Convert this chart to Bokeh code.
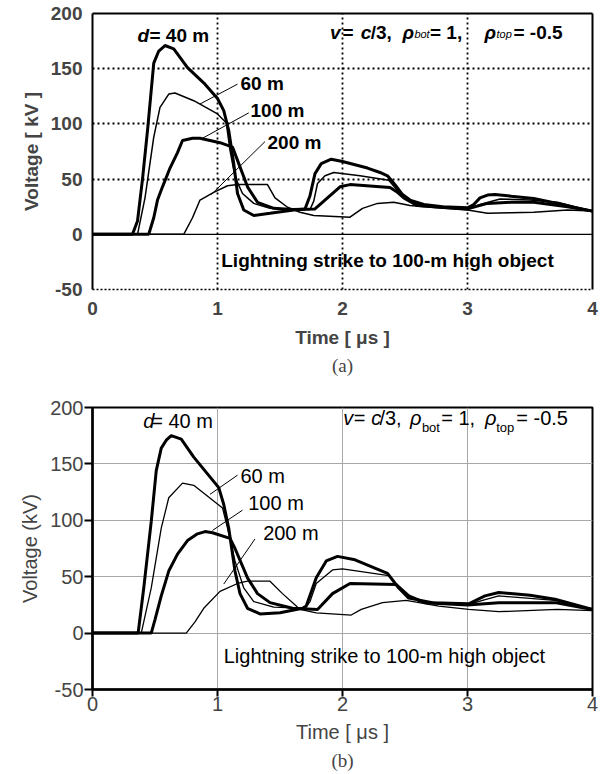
from bokeh.plotting import figure
from bokeh.models import FixedTicker, Label, LinearAxis, Span, Range1d
from bokeh.layouts import column
from bokeh.embed import file_html
from bokeh.resources import INLINE

FONT = "Liberation Sans"
SERIF = "Liberation Serif"

# ---------------- data: panel (a) ----------------
x_ticks = [0, 1, 2, 3, 4]
y_ticks = [-50, 0, 50, 100, 150, 200]

t40_a = [0, 0.32, 0.36, 0.40, 0.44, 0.49, 0.53, 0.58, 0.65, 0.76, 0.90, 1.00, 1.05, 1.09, 1.13, 1.16, 1.21, 1.29, 1.42, 1.61,
         1.70, 1.74, 1.78, 1.83, 1.91, 2.00, 2.10, 2.20, 2.30, 2.36, 2.42, 2.48, 2.54, 2.65, 2.80, 3.00, 3.05, 3.10, 3.16, 3.22,
         3.35, 3.53, 3.72, 3.85, 4.00]
v40_a = [0, 0, 12, 50, 94, 155, 166, 171, 168, 151, 136, 123, 112, 94, 64, 37, 22, 17, 19, 22,
         23, 35, 55, 64, 68, 66, 63, 60, 56, 53, 45, 36, 31, 27, 25, 24, 27, 33, 35.5, 36,
         34.5, 32.5, 28, 24.5, 21]

t60_a = [0, 0.36, 0.42, 0.49, 0.54, 0.61, 0.66, 0.81, 1.00, 1.07, 1.10, 1.14, 1.20, 1.29, 1.42, 1.60, 1.74, 1.77, 1.80, 1.86,
         1.93, 2.14, 2.37, 2.46, 2.57, 2.73, 3.00, 3.10, 3.26, 3.50, 3.72, 4.00]
v60_a = [0, 0, 33, 88, 115, 127, 128, 121, 109, 101, 76, 52, 37, 28, 23.5, 22, 22.5, 30, 46, 53,
         56, 53, 49, 37, 28, 25, 23, 27, 32, 31, 29, 21]

t100_a = [0, 0.45, 0.49, 0.52, 0.56, 0.62, 0.68, 0.72, 0.80, 0.86, 1.02, 1.12, 1.17, 1.24, 1.32, 1.45, 1.60, 1.78, 1.83, 1.88,
          1.98, 2.06, 2.38, 2.44, 2.49, 2.60, 2.80, 3.00, 3.16, 3.35, 3.53, 3.80, 4.00]
v100_a = [0, 0, 15, 31, 43, 60, 74, 85, 87, 87, 83, 79, 64, 43, 29, 23.5, 22.5, 23, 28, 33,
          43, 45, 42.5, 38, 33, 26, 24.5, 23, 28, 29, 29, 25, 21]

t200_a = [0, 0.73, 0.80, 0.86, 0.97, 1.08, 1.16, 1.40, 1.46, 1.56, 1.66, 1.77, 2.06, 2.16, 2.28, 2.41, 2.54, 2.75, 3.00, 3.16,
          3.35, 3.53, 3.80, 4.00]
v200_a = [0, 0, 15, 31, 38, 44, 45, 45, 33, 24.5, 20, 17, 15.5, 23.5, 28, 29, 26, 24, 22, 19,
          19.5, 20, 22, 21]

# ---------------- data: panel (b) ----------------
t40_b = [0, 0.365, 0.41, 0.47, 0.51, 0.55, 0.59, 0.63, 0.71, 0.81, 1.01, 1.05, 1.09, 1.14, 1.18, 1.24, 1.34, 1.50, 1.68, 1.71,
         1.79, 1.87, 1.96, 2.10, 2.36, 2.45, 2.53, 2.72, 3.01, 3.14, 3.25, 3.50, 3.70, 4.00]
v40_b = [0, 0, 40, 99, 144, 164, 171, 175, 172, 156, 129, 114, 93, 55, 35, 22, 17, 18, 22, 24,
         49, 64, 68, 65, 53, 40, 31, 27, 26, 33, 36, 33.5, 30, 21]

t60_b = [0, 0.39, 0.47, 0.55, 0.61, 0.72, 0.81, 1.04, 1.08, 1.14, 1.21, 1.29, 1.45, 1.70, 1.74, 1.79, 1.92, 2.00, 2.37, 2.48,
         2.61, 3.00, 3.12, 3.25, 3.70, 4.00]
v60_b = [0, 0, 40, 93, 120, 133, 131, 111, 93, 64, 40, 28, 23, 22, 28, 44, 56, 57, 51, 37,
         28, 25, 29, 33, 29, 21]

t100_b = [0, 0.47, 0.50, 0.55, 0.61, 0.68, 0.76, 0.84, 0.90, 0.96, 1.10, 1.14, 1.24, 1.32, 1.42, 1.60, 1.80, 1.92, 2.06, 2.43,
          2.53, 2.66, 3.00, 3.25, 3.70, 4.00]
v100_b = [0, 0, 12, 33, 55, 70, 82, 88, 90, 89, 84, 75, 49, 35, 27, 22, 21, 35, 44, 43,
          33, 27, 25, 27, 27, 21]

t200_b = [0, 0.75, 0.82, 0.89, 1.02, 1.16, 1.24, 1.42, 1.52, 1.63, 1.66, 1.79, 2.07, 2.15, 2.32, 2.51, 2.77, 3.01, 3.25, 3.72,
          4.00]
v200_b = [0, 0, 10, 22, 37, 44, 46, 46, 35, 24, 21, 18, 16, 21, 27, 29, 24, 21, 19, 21,
          20]


def lab(p, x, y, text, size, style="normal", font=FONT):
    p.add_layout(Label(x=x, y=y, text=text, text_font=font, text_font_size=size,
                       text_font_style=style, text_align="left", text_baseline="middle",
                       text_color="black"))


def border_axis(p, loc, width):
    ax = LinearAxis(ticker=FixedTicker(ticks=[]), major_label_text_font_size="0px",
                    major_tick_out=0, major_tick_in=0, minor_tick_out=0, minor_tick_in=0,
                    axis_line_width=width, axis_line_color="black")
    p.add_layout(ax, loc)


# ================= Panel (a) =================
pa = figure(width=608, height=386, x_range=Range1d(0, 4), y_range=Range1d(-50, 200),
            output_backend="svg", toolbar_location=None,
            min_border_left=92, min_border_right=16, min_border_top=13, min_border_bottom=97,
            title="(a)", title_location="below")
pa.title.align = "center"
pa.title.offset = -12
pa.title.standoff = 5
pa.title.text_font = SERIF
pa.title.text_font_size = "19px"
pa.title.text_font_style = "normal"
pa.outline_line_color = None
pa.background_fill_color = "white"
pa.border_fill_color = "white"

xa = pa.xaxis[0]
xa.ticker = FixedTicker(ticks=x_ticks)
xa.axis_label = "Time [ μs ]"
xa.axis_label_text_font = FONT
xa.axis_label_text_font_size = "19px"
xa.axis_label_text_font_style = "bold"
xa.major_label_text_font = FONT
xa.major_label_text_font_size = "19px"
xa.major_label_text_font_style = "bold"
xa.major_tick_out = 0
xa.major_tick_in = 0
xa.minor_tick_out = 0
xa.minor_tick_in = 0
xa.axis_line_dash = "2 2"
xa.axis_line_width = 1.5
xa.major_label_standoff = 12
xa.axis_label_standoff = 9

ya = pa.yaxis[0]
ya.ticker = FixedTicker(ticks=y_ticks)
ya.major_label_overrides = {-50: "-50"}
ya.axis_label = "Voltage [ kV ]"
ya.axis_label_text_font = FONT
ya.axis_label_text_font_size = "19px"
ya.axis_label_text_font_style = "bold"
ya.major_label_text_font = FONT
ya.major_label_text_font_size = "19px"
ya.major_label_text_font_style = "bold"
ya.major_tick_out = 0
ya.major_tick_in = 0
ya.minor_tick_out = 0
ya.minor_tick_in = 0
ya.axis_line_width = 2
ya.major_label_standoff = 10
ya.axis_label_standoff = 6

border_axis(pa, "right", 2)
border_axis(pa, "above", 2)

pa.xgrid.ticker = FixedTicker(ticks=[1, 2, 3])
pa.ygrid.ticker = FixedTicker(ticks=[50, 100, 150])
for g in (pa.xgrid[0], pa.ygrid[0]):
    g.grid_line_color = "black"
    g.grid_line_dash = "2 3"
    g.grid_line_width = 1.8
pa.add_layout(Span(location=0, dimension="width", line_color="black", line_width=1.2))

pa.line(t40_a, v40_a, line_color="black", line_width=3)
pa.line(t60_a, v60_a, line_color="black", line_width=1.5)
pa.line(t100_a, v100_a, line_color="black", line_width=3)
pa.line(t200_a, v200_a, line_color="black", line_width=1.5)

pa.segment(x0=[0.86, 0.88, 0.95], y0=[118, 87, 36], x1=[1.16, 1.25, 1.38], y1=[136, 110, 84],
           line_color="black", line_width=1)

lab(pa, 0.36, 180, "d", "19px", "bold italic")
lab(pa, 0.456, 180, "= 40 m", "19px", "bold")
lab(pa, 1.184, 137, "60 m", "19px", "bold")
lab(pa, 1.264, 112, "100 m", "19px", "bold")
lab(pa, 1.40, 83, "200 m", "19px", "bold")

lab(pa, 1.90, 182.6, "v", "19px", "bold italic")
lab(pa, 2.0, 182.6, "=", "19px", "bold")
lab(pa, 2.145, 182.6, "c", "19px", "bold italic")
lab(pa, 2.225, 182.6, "/3,", "19px", "bold")
lab(pa, 2.48, 182.6, "ρ", "19px", "bold italic")
lab(pa, 2.575, 181, "bot", "11px", "italic")
lab(pa, 2.70, 182.6, "= 1,", "19px", "bold")
lab(pa, 3.136, 182.6, "ρ", "19px", "bold italic")
lab(pa, 3.232, 181, "top", "11px", "italic")
lab(pa, 3.368, 182.6, "= -0.5", "19px", "bold")

lab(pa, 1.03, -23.5, "Lightning strike to 100-m high object", "19px", "bold")

# ================= Panel (b) =================
pb = figure(width=608, height=388, x_range=Range1d(0, 4), y_range=Range1d(-50, 200),
            output_backend="svg", toolbar_location=None,
            min_border_left=91, min_border_right=13, min_border_top=21, min_border_bottom=85,
            title="(b)", title_location="below")
pb.title.align = "center"
pb.title.offset = -9
pb.title.standoff = 5
pb.title.text_font = SERIF
pb.title.text_font_size = "19px"
pb.title.text_font_style = "normal"
pb.outline_line_color = "black"
pb.outline_line_width = 2
pb.background_fill_color = "white"
pb.border_fill_color = "white"

xb = pb.xaxis[0]
xb.ticker = FixedTicker(ticks=x_ticks)
xb.axis_label = "Time [ μs ]"
xb.axis_label_text_font = FONT
xb.axis_label_text_font_size = "20px"
xb.axis_label_text_font_style = "normal"
xb.major_label_text_font = FONT
xb.major_label_text_font_size = "20px"
xb.major_tick_out = 7
xb.major_tick_in = 0
xb.minor_tick_out = 0
xb.minor_tick_in = 0
xb.major_tick_line_width = 2
xb.axis_line_width = 2.5
xb.major_label_standoff = 0
xb.axis_label_standoff = 7

yb = pb.yaxis[0]
yb.ticker = FixedTicker(ticks=y_ticks)
yb.major_label_overrides = {-50: "-50"}
yb.axis_label = "Voltage (kV)"
yb.axis_label_text_font = FONT
yb.axis_label_text_font_size = "20px"
yb.axis_label_text_font_style = "normal"
yb.major_label_text_font = FONT
yb.major_label_text_font_size = "20px"
yb.major_tick_out = 8
yb.major_tick_in = 0
yb.minor_tick_out = 0
yb.minor_tick_in = 0
yb.major_tick_line_width = 2
yb.axis_line_width = 2.5
yb.major_label_standoff = 1
yb.axis_label_standoff = 6

pb.xgrid.ticker = FixedTicker(ticks=[1, 2, 3])
pb.ygrid.ticker = FixedTicker(ticks=[0, 50, 100, 150])
for g in (pb.xgrid[0], pb.ygrid[0]):
    g.grid_line_color = "#a8a8a8"
    g.grid_line_width = 1

pb.line(t40_b, v40_b, line_color="black", line_width=3)
pb.line(t60_b, v60_b, line_color="black", line_width=1.3)
pb.line(t100_b, v100_b, line_color="black", line_width=3)
pb.line(t200_b, v200_b, line_color="black", line_width=1.3)

pb.segment(x0=[0.94, 0.96, 1.05], y0=[123, 91, 43.5], x1=[1.16, 1.20, 1.30], y1=[140, 109, 83.5],
           line_color="black", line_width=1)

lab(pb, 0.405, 188, "d", "20px", "italic")
lab(pb, 0.47, 188, "= 40 m", "20px")
lab(pb, 1.183, 139, "60 m", "20px")
lab(pb, 1.246, 115, "100 m", "20px")
lab(pb, 1.365, 89, "200 m", "20px")

lab(pb, 2.006, 191, "v", "20px", "italic")
lab(pb, 2.09, 191, "=", "20px")
lab(pb, 2.23, 191, "c", "20px", "italic")
lab(pb, 2.295, 191, "/3,", "20px")
lab(pb, 2.54, 191, "ρ", "20px", "italic")
lab(pb, 2.635, 182, "bot", "13px")
lab(pb, 2.79, 191, "= 1,", "20px")
lab(pb, 3.14, 191, "ρ", "20px", "italic")
lab(pb, 3.23, 182, "top", "13px")
lab(pb, 3.39, 191, "= -0.5", "20px")

lab(pb, 1.05, -20.4, "Lightning strike to 100-m high object", "20px")

layout = column(pa, pb, spacing=0)
open("out.html", "w").write(file_html(layout, INLINE))
